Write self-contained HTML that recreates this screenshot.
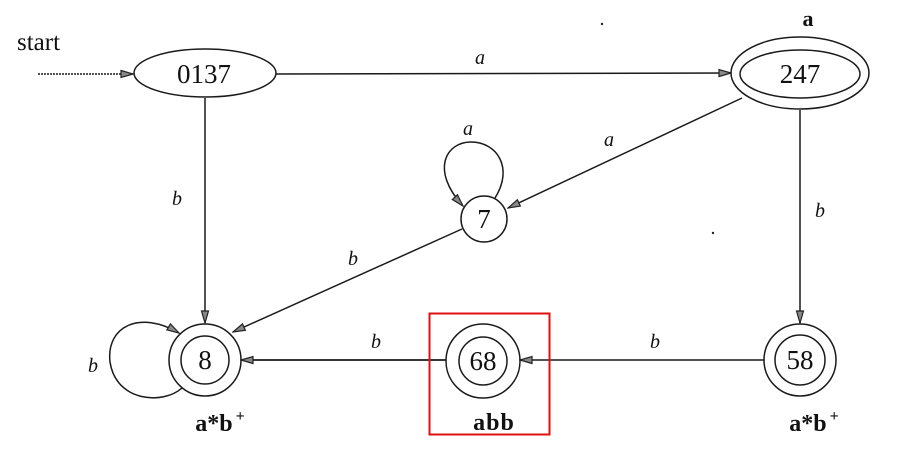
<!DOCTYPE html>
<html><head><meta charset="utf-8"><style>
html,body{margin:0;padding:0;background:#fff;}
svg{display:block;}
text{font-family:"Liberation Serif",serif;fill:#111;}
.n{font-size:27px;text-anchor:middle;}
.l{font-size:20px;font-style:italic;text-anchor:middle;}
.bl{font-size:24px;font-weight:bold;text-anchor:middle;}
</style></head><body>
<svg width="906" height="464" viewBox="0 0 906 464" xmlns="http://www.w3.org/2000/svg">
<defs>
<marker id="ah" markerUnits="userSpaceOnUse" markerWidth="14" markerHeight="10" refX="13" refY="5" orient="auto">
<path d="M1,1.5 L13,5 L1,8.5 Z" fill="#888" stroke="#222" stroke-width="1.2"/>
</marker>
</defs>
<g fill="none" stroke="#1a1a1a" stroke-width="1.5">
<!-- start -->
<line x1="38" y1="74" x2="133" y2="74" stroke-dasharray="2,1" marker-end="url(#ah)"/>
<!-- nodes -->
<ellipse cx="205" cy="73" rx="71" ry="24"/>
<ellipse cx="800" cy="73" rx="69" ry="36"/>
<ellipse cx="800" cy="74" rx="60" ry="24"/>
<circle cx="484" cy="219" r="23"/>
<circle cx="205" cy="360" r="36"/>
<circle cx="205" cy="360" r="24"/>
<circle cx="483" cy="361" r="37"/>
<circle cx="483" cy="361" r="24"/>
<circle cx="800" cy="360" r="36"/>
<circle cx="800" cy="360" r="25"/>
<!-- edges -->
<line x1="276" y1="74" x2="731" y2="73" marker-end="url(#ah)"/>
<line x1="742" y1="98" x2="508" y2="208" marker-end="url(#ah)"/>
<line x1="800" y1="110" x2="800" y2="323" marker-end="url(#ah)"/>
<line x1="205" y1="98" x2="205" y2="323" marker-end="url(#ah)"/>
<line x1="462" y1="229" x2="233" y2="332" marker-end="url(#ah)"/>
<line x1="764" y1="360" x2="520" y2="360" marker-end="url(#ah)"/>
<line x1="446" y1="360" x2="241" y2="360" stroke-width="1.8" marker-end="url(#ah)"/>
<!-- self loops -->
<path d="M495 198 C514 168, 497 142, 471 142 C446 142, 430 170, 463 206" marker-end="url(#ah)"/>
<path d="M182 388 C163 405, 116 402, 110 362 C106 326, 140 310, 179 333" marker-end="url(#ah)"/>
</g>
<!-- red box -->
<rect x="429.5" y="313.5" width="120" height="121" fill="none" stroke="#e01010" stroke-width="2"/>
<!-- dots -->
<circle cx="602" cy="24" r="1.2" fill="#222"/>
<circle cx="713" cy="233" r="1.2" fill="#222"/>
<!-- text -->
<text x="17" y="50" style="font-size:25px">start</text>
<text class="n" x="204" y="83">0137</text>
<text class="n" x="800" y="83">247</text>
<text class="n" x="484" y="228">7</text>
<text class="n" x="205" y="369">8</text>
<text class="n" x="483" y="370">68</text>
<text class="n" x="800" y="369">58</text>
<text class="l" x="480" y="64">a</text>
<text class="l" x="609" y="146">a</text>
<text class="l" x="468" y="135">a</text>
<text class="l" x="177" y="205">b</text>
<text class="l" x="820" y="217">b</text>
<text class="l" x="353" y="265">b</text>
<text class="l" x="376" y="348">b</text>
<text class="l" x="655" y="348">b</text>
<text class="l" x="93" y="372">b</text>
<text x="808" y="26" style="font-size:22px;font-weight:bold;text-anchor:middle">a</text>
<text class="bl" x="220" y="431">a*b<tspan dx="3" dy="-10" style="font-size:16px">+</tspan></text>
<text class="bl" x="814" y="431">a*b<tspan dx="3" dy="-10" style="font-size:16px">+</tspan></text>
<text class="bl" x="494" y="430" style="letter-spacing:1px">abb</text>
</svg>
</body></html>
